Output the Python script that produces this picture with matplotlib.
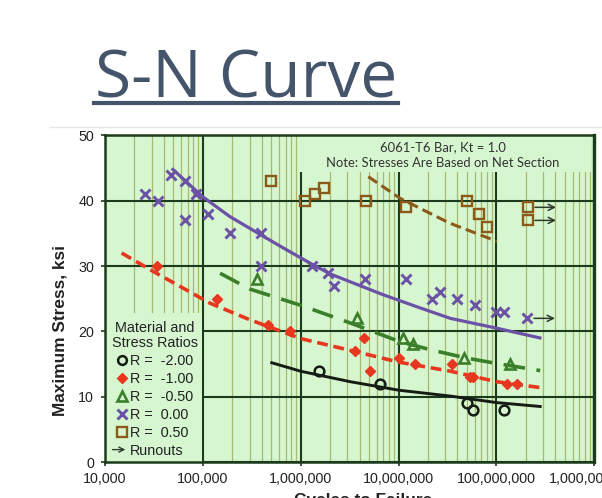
import matplotlib
matplotlib.use("Agg")
import matplotlib.pyplot as plt
from matplotlib.lines import Line2D
from matplotlib.patches import Rectangle, FancyArrowPatch
from matplotlib.legend_handler import HandlerBase
from matplotlib.ticker import FixedLocator, FuncFormatter, LogLocator

plt.rcParams["font.family"] = ["Liberation Sans", "DejaVu Sans"]

# --- data ---
r_m200_n = [1.52e6, 6.4e6, 5.0e7, 5.7e7, 1.2e8]
r_m200_s = [14, 12, 9, 8, 8]

r_m100_n = [3.38e4, 1.41e5, 4.68e5, 7.8e5, 3.6e6, 4.45e6, 5.15e6, 1.01e7, 1.48e7, 3.5e7, 5.4e7, 5.7e7, 1.28e8, 1.62e8]
r_m100_s = [30, 25, 21, 20, 17, 19, 14, 16, 15, 15, 13, 13, 12, 12]

r_m050_n = [3.6e5, 3.8e6, 1.1e7, 1.41e7, 4.7e7, 1.38e8]
r_m050_s = [28, 22, 19, 18, 16, 15]

r_000_n = [2.54e4, 3.48e4, 4.75e4, 6.5e4, 6.5e4, 8.6e4, 1.13e5, 1.88e5, 3.9e5, 3.9e5, 1.31e6,
           1.88e6, 2.2e6, 4.5e6, 1.19e7, 2.18e7, 2.66e7, 3.94e7, 6.06e7, 9.9e7, 1.2e8, 2.05e8]
r_000_s = [41, 40, 44, 43, 37, 41, 38, 35, 35, 30, 30, 29, 27, 28, 28, 25, 26, 25, 24, 23, 23, 22]

r_050_n = [4.98e5, 1.11e6, 1.4e6, 1.71e6, 4.63e6, 1.2e7, 5.0e7, 6.56e7, 8.0e7, 2.1e8, 2.1e8]
r_050_s = [43, 40, 41, 42, 40, 39, 40, 38, 36, 39, 37]

# runouts (specimens that did not fail)
runout_n = [2.1e8, 2.1e8, 2.05e8]
runout_s = [39, 37, 22]

# fitted curves
fit_m200_n = [5.06e5, 1.0e6, 3.2e6, 1.0e7, 3.36e7, 1.0e8, 2.8e8]
fit_m200_s = [15.2, 13.9, 12.3, 11.0, 10.1, 9.1, 8.5]

fit_m100_n = [1.48e4, 3.1e4, 1.19e5, 3.0e5, 1.0e6, 3.2e6, 1.0e7, 3.4e7, 1.0e8, 2.8e8]
fit_m100_s = [32.0, 29.2, 24.3, 21.8, 18.9, 17.1, 15.3, 13.9, 12.3, 11.4]

fit_m050_n = [1.5e5, 3.0e5, 1.0e6, 3.2e6, 1.0e7, 2.1e7, 5.0e7, 1.0e8, 2.8e8]
fit_m050_s = [28.9, 26.5, 24.0, 21.3, 18.5, 17.2, 15.9, 15.1, 14.0]

fit_000_n = [4.94e4, 1.0e5, 1.88e5, 3.9e5, 6.6e5, 1.3e6, 2.0e6, 7.0e6, 1.66e7, 3.37e7, 1.0e8, 2.78e8]
fit_000_s = [44.8, 40.6, 37.6, 34.8, 32.8, 30.3, 28.8, 25.6, 23.6, 22.0, 20.5, 19.0]

fit_050_n = [4.9e6, 1.03e7, 3.3e7, 1.01e8]
fit_050_s = [43.7, 40.4, 36.6, 33.8]

y_ticks = [0, 10, 20, 30, 40, 50]
x_ticks = [1e4, 1e5, 1e6, 1e7, 1e8, 1e9]

# --- colours ---
bg = "#d6f6d0"
c_black = "#141c14"
c_red = "#e8371f"
c_green = "#3b7f2a"
c_purple = "#6b52a6"
c_brown = "#8c5a18"
c_arrow = "#2b3a2b"


class PilHandler(HandlerBase):
    # draws a thin open arrow as legend key for the runouts
    def create_artists(self, legend, orig_handle, xdescent, ydescent, width, height,
                       fontsize, trans):
        y = height / 2 - ydescent
        pil = FancyArrowPatch((-xdescent - 5, y), (width - xdescent + 1, y),
                              arrowstyle="->", mutation_scale=9, lw=1.0,
                              color=c_arrow, transform=trans)
        return [pil]


fig = plt.figure(figsize=(6.02, 4.98), dpi=100)
fig.patch.set_facecolor("white")

# title of the slide
titel = fig.text(95 / 602, 1 - 97 / 498, "S-N Curve", fontsize=47.3, family="Open Sans",
                 color="#44546a", va="baseline", ha="left")
fig.canvas.draw()
bb = titel.get_window_extent().transformed(fig.transFigure.inverted())
fig.add_artist(Line2D([bb.x0 - 0.002, bb.x1 + 0.002], [1 - 103 / 498] * 2,
                      transform=fig.transFigure, color="#44546a", lw=3))
# faint border of the pasted picture
fig.add_artist(Line2D([50 / 602, 1.0], [1 - 126.5 / 498] * 2, transform=fig.transFigure,
                      color="#e6e6e6", lw=1))

ax = fig.add_axes([105 / 602, 36 / 498, 489.3 / 602, 326.5 / 498])
ax.set_facecolor(bg)
ax.set_xscale("log")
ax.set_xlim(1e4, 1e9)
ax.set_ylim(0, 50)
ax.set_axisbelow(True)

ax.xaxis.set_major_locator(FixedLocator(x_ticks))
ax.xaxis.set_minor_locator(LogLocator(base=10, subs=range(2, 10), numticks=50))
ax.xaxis.set_major_formatter(FuncFormatter(lambda v, p: "{:,.0f}".format(v)))
ax.xaxis.set_minor_formatter(FuncFormatter(lambda v, p: ""))
ax.yaxis.set_major_locator(FixedLocator(y_ticks))

ax.grid(which="major", color="#1c3a1c", lw=1.5)
ax.grid(which="minor", axis="x", color="#a9b86a", lw=0.9)
ax.tick_params(which="major", length=3, width=1.2, color="#1c3a1c", labelsize=10.3,
               labelcolor="#222222")
ax.tick_params(axis="y", pad=5)
ax.tick_params(axis="x", pad=4)
ax.tick_params(which="minor", length=0)
for sp in ax.spines.values():
    sp.set_color("#1c3a1c")
    sp.set_linewidth(1.8)
ax.spines["right"].set_linewidth(2.4)

# boxes behind the note and the legend, they hide the grid there
ax.add_patch(Rectangle((0.394, 0.888), 0.6, 0.112, transform=ax.transAxes,
                       facecolor=bg, edgecolor="none", zorder=1))
ax.add_patch(Rectangle((0.0, 0.0), 0.198, 0.455, transform=ax.transAxes,
                       facecolor=bg, edgecolor="none", zorder=1))
ax.text(0.69, 0.94, "6061-T6 Bar, Kt = 1.0\nNote: Stresses Are Based on Net Section",
        transform=ax.transAxes, ha="center", va="center", fontsize=9.4, family="Lato",
        color="#333333", linespacing=1.3, zorder=3)

# fitted curves
ax.plot(fit_000_n, fit_000_s, color=c_purple, lw=2.3, zorder=2)
ax.plot(fit_m100_n, fit_m100_s, color=c_red, lw=2.6, dashes=(3.0, 1.6), zorder=2)
ax.plot(fit_m050_n, fit_m050_s, color=c_green, lw=2.6, dashes=(6.0, 3.2), zorder=2)
ax.plot(fit_m200_n, fit_m200_s, color=c_black, lw=2.1, zorder=2)
ax.plot(fit_050_n, fit_050_s, color=c_brown, lw=2.2, dashes=(3.5, 1.7), zorder=2)

# test points
ax.plot(r_m200_n, r_m200_s, "o", ls="none", mfc="none", mec=c_black, mew=1.8, ms=7,
        zorder=4, label="R =  -2.00")
ax.plot(r_m100_n, r_m100_s, "D", ls="none", color=c_red, ms=5.5, zorder=4, label="R =  -1.00")
ax.plot(r_m050_n, r_m050_s, "^", ls="none", mfc="none", mec=c_green, mew=1.9, ms=7.5,
        zorder=4, label="R =  -0.50")
ax.plot(r_000_n, r_000_s, "x", ls="none", color=c_purple, mew=2.1, ms=7.5, zorder=4,
        label="R =  0.00")
ax.plot(r_050_n, r_050_s, "s", ls="none", mfc="none", mec=c_brown, mew=1.7, ms=7.5,
        zorder=4, label="R =  0.50")

# runout arrows
for n, s in zip(runout_n, runout_s):
    ax.annotate("", xy=(n * 10 ** (28 / 97.8), s), xytext=(n * 10 ** (7 / 97.8), s),
                arrowprops=dict(arrowstyle="->", color=c_arrow, lw=1.1,
                                shrinkA=0, shrinkB=0, mutation_scale=11), zorder=4)

handles, labels = ax.get_legend_handles_labels()
pil_handle = Line2D([], [])
handles.append(pil_handle)
labels.append("Runouts")
leg = ax.legend(handles, labels, title="Material and\nStress Ratios", loc="lower left",
                bbox_to_anchor=(0.005, 0.0), fontsize=10.4, title_fontsize=10.4,
                handlelength=0.7, handletextpad=0.2, labelspacing=0.27,
                borderpad=0.2, borderaxespad=0.1, frameon=False, alignment="center",
                markerscale=0.9, handler_map={pil_handle: PilHandler()})
for t in leg.get_texts():
    t.set_color("#222222")
leg.get_title().set_color("#222222")
leg.get_title().set_multialignment("center")
leg.get_title().set_linespacing(1.15)

ax.set_ylabel("Maximum Stress, ksi", fontsize=12.4, fontweight="bold", color="#222222")
ax.set_xlabel("Cycles to Failure", fontsize=12.4, fontweight="bold", color="#222222")
ax.yaxis.set_label_coords(-0.077, 0.404)
ax.xaxis.set_label_coords(0.527, -0.095)

fig.savefig("out.png", dpi=100)
